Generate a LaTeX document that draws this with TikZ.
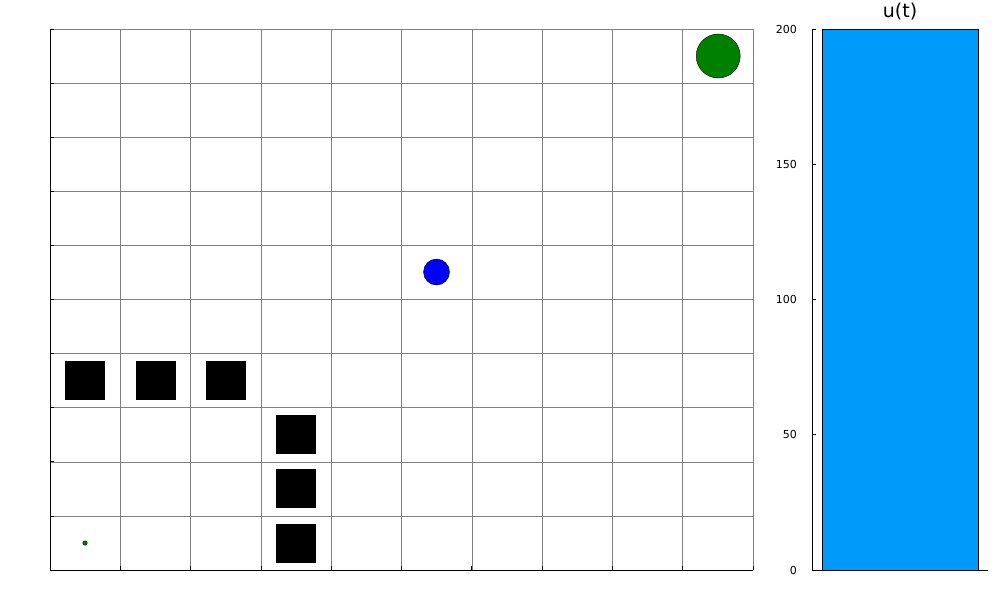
\documentclass[tikz,border=0pt]{standalone}
\usepackage{fontspec}
\setmainfont{DejaVu Sans}
\usetikzlibrary{positioning}
\definecolor{barblue}{RGB}{0,154,250}
\definecolor{goalgreen}{RGB}{0,128,0}

\begin{document}
\begin{tikzpicture}[
  x=1pt, y=-1pt,
  font=\fontsize{11}{13}\selectfont,
  gridline/.style={draw=black!50, line width=0.6pt},
  axis/.style={draw=black, line width=0.9pt},
  obstacle/.style={fill=black, inner sep=0pt, minimum width=40pt, minimum height=39pt},
  agent/.style={circle, draw=black, fill=blue, inner sep=0pt, minimum size=26pt},
  goal/.style={circle, draw=black, fill=goalgreen, inner sep=0pt, minimum size=44pt},
  ticklabel/.style={anchor=east, inner sep=0pt}
]
\useasboundingbox (0,0) rectangle (1000,600);
% grid of the map (10 x 10 cells)
\foreach \i in {0,...,10} {
  \draw[gridline] ({50+70.3*\i},29) -- ({50+70.3*\i},570);
  \draw[gridline] (50,{29+54.1*\i}) -- (753,{29+54.1*\i});
}
\foreach \i in {0,...,10} {
  \draw[axis, line width=0.7pt] ({50+70.3*\i},570) -- ({50+70.3*\i},566);
  \draw[axis, line width=0.7pt] (50,{29+54.1*\i}) -- (54,{29+54.1*\i});
}
\draw[axis] (50,29) -- (50,570) -- (753,570);
% obstacles
\node[obstacle] (obsa) at (85.2,380) {};
\node[obstacle] (obsb) at (155.5,380) {};
\node[obstacle] (obsc) at (225.8,380) {};
\node[obstacle] (obsd) at (296.1,434.8) {};
\node[obstacle] (obse) at (296.1,488.9) {};
\node[obstacle] (obsf) at (296.1,543) {};
% start, agent and goal
\node[circle, draw=black, fill=goalgreen, inner sep=0pt, minimum size=4.5pt] (start) at (85,543) {};
\node[agent] (robot) at (436.5,272) {};
\node[goal] (target) at (718.2,56) {};
% control bar u(t)
\filldraw[fill=barblue, draw=black, line width=0.8pt] (822,570) rectangle (978,29);
\draw[axis] (812,29) -- (812,570) -- (988,570);
\foreach \v in {0,50,...,200} {
  \draw[axis, line width=0.7pt] (812,{570-2.705*\v}) -- (816,{570-2.705*\v});
  \node[ticklabel] (tick\v) at (797,{570-2.705*\v}) {\v};
}
\node[font=\fontsize{19}{22}\selectfont] (title) at (900,12) {u(t)};
\end{tikzpicture}
\end{document}
